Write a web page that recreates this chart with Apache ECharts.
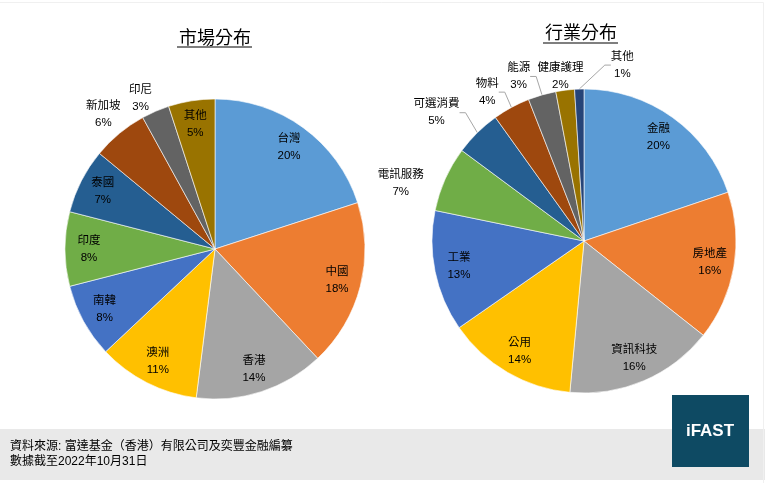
<!DOCTYPE html>
<html><head><meta charset="utf-8">
<script src="https://cdn.jsdelivr.net/npm/echarts@6/dist/echarts.min.js"></script>
<style>html,body{margin:0;padding:0;background:#fff}#c{width:765px;height:483px}</style>
</head><body><div id="c"></div>
<script>
const marketTitle = '市場分布';
const marketNames = ['台灣','中國','香港','澳洲','南韓','印度','泰國','新加坡','印尼','其他'];
const marketValues = [20,18,14,11,8,8,7,6,3,5];
const marketOutside = ['新加坡','印尼'];
const marketLines = [];

const industryTitle = '行業分布';
const industryNames = ['金融','房地產','資訊科技','公用','工業','電訊服務','可選消費','物料','能源','健康護理','其他'];
const industryValues = [20,16,16,14,13,7,5,4,3,2,1];
const industryOutside = ['電訊服務','可選消費','物料','能源','健康護理','其他'];
const industryLines = ['可選消費','物料','能源','其他'];

const palette = ['#5B9BD5','#ED7D31','#A5A5A5','#FFC000','#4472C4','#70AD47','#255E91','#9E480E','#636363','#997300','#264478'];
const footerLines = ['資料來源: 富達基金（香港）有限公司及奕豐金融編纂','數據截至2022年10月31日'];

// label nudges relative to default outside placement (style, not data)
const marketNudge = {'新加坡': [11, -14], '印尼': [5, -8]};
const industryNudge = {'電訊服務': [-10, 7], '可選消費': [0, -10], '物料': [2, -3], '能源': [0, -5], '健康護理': [25, -8], '其他': [63, -10]};

const FONT = 'Liberation Sans, "Noto Sans CJK TC", sans-serif';

function pieSeries(names, values, outside, lines, nudge, cx, cy, r) {
  const base = {
    type: 'pie', center: [cx, cy], radius: [0, r], startAngle: 90, clockwise: true,
    silent: true, label: {show: false}, labelLine: {show: false},
    itemStyle: {borderColor: '#ffffff', borderWidth: 0.6},
    data: names.map((n, i) => ({name: n, value: values[i], itemStyle: {color: palette[i]}}))
  };
  const lab = {
    type: 'pie', center: [cx, cy], radius: [r * 0.64, r], startAngle: 90, clockwise: true,
    silent: true, avoidLabelOverlap: false,
    itemStyle: {color: 'rgba(0,0,0,0)', borderWidth: 0},
    emphasis: {disabled: true},
    label: {show: true, position: 'inside', formatter: p => p.name + '\n' + p.value + '%',
      color: '#000', fontSize: 11.5, fontFamily: FONT, lineHeight: 17, align: 'center'},
    labelLayout: p => {
      const n = names[p.dataIndex];
      if (!outside.includes(n)) return {hideOverlap: false};
      const o = nudge[n] || [0, 0];
      const rc = p.labelRect;
      return {x: rc.x + rc.width / 2 + o[0], y: rc.y + rc.height / 2 + o[1],
        align: 'center', verticalAlign: 'middle', hideOverlap: false};
    },
    data: names.map((n, i) => {
      const d = {name: n, value: values[i]};
      if (outside.includes(n)) {
        const hasLine = lines.includes(n);
        d.label = {position: 'outside', distanceToLabelLine: 2, align: 'center'};
        d.labelLine = {show: hasLine, length: hasLine ? 14 : 6, length2: hasLine ? 6 : 4,
          smooth: false, lineStyle: {color: '#A6A6A6', width: 1}};
      } else {
        d.labelLine = {show: false};
      }
      return d;
    })
  };
  return [base, lab];
}

const chart = echarts.init(document.getElementById('c'), null, {renderer: 'canvas'});
chart.setOption({
  animation: false,
  backgroundColor: '#ffffff',
  title: [
    {text: marketTitle, left: 215, top: 28, textAlign: 'center', padding: 0,
      textStyle: {fontSize: 18, fontWeight: 'normal', color: '#000', fontFamily: '"Noto Sans CJK TC", sans-serif'}},
    {text: industryTitle, left: 581, top: 23, textAlign: 'center', padding: 0,
      textStyle: {fontSize: 18, fontWeight: 'normal', color: '#000', fontFamily: '"Noto Sans CJK TC", sans-serif'}}
  ],
  graphic: [
    {type: 'line', shape: {x1: 177, y1: 47, x2: 252, y2: 47}, style: {stroke: '#000', lineWidth: 1.2}},
    {type: 'line', shape: {x1: 543, y1: 43, x2: 618, y2: 43}, style: {stroke: '#000', lineWidth: 1.2}},
    {type: 'rect', shape: {x: 0, y: 429, width: 765, height: 51}, style: {fill: '#E9E9E9'}, z: -1},
    {type: 'rect', shape: {x: 672, y: 395, width: 77, height: 72}, style: {fill: '#0E4A63'}},
    {type: 'text', x: 710, y: 431, style: {text: 'iFAST', fill: '#fff', fontSize: 17, fontWeight: 'bold',
      fontFamily: 'Liberation Sans, Arial, sans-serif', align: 'center', verticalAlign: 'middle'}},
    {type: 'text', x: 10, y: 447, style: {text: footerLines[0], fill: '#000', fontSize: 12,
      fontFamily: FONT, verticalAlign: 'middle'}},
    {type: 'text', x: 10, y: 462, style: {text: footerLines[1], fill: '#000', fontSize: 12,
      fontFamily: FONT, verticalAlign: 'middle'}},
    {type: 'line', shape: {x1: 0, y1: 2.5, x2: 763.5, y2: 2.5}, style: {stroke: '#F0F0F0', lineWidth: 1}},
    {type: 'line', shape: {x1: 763.5, y1: 2.5, x2: 763.5, y2: 483}, style: {stroke: '#F0F0F0', lineWidth: 1}}
  ],
  series: [
    ...pieSeries(marketNames, marketValues, marketOutside, marketLines, marketNudge, 215, 249, 150),
    ...pieSeries(industryNames, industryValues, industryOutside, industryLines, industryNudge, 584, 241, 152)
  ]
});
</script></body></html>
